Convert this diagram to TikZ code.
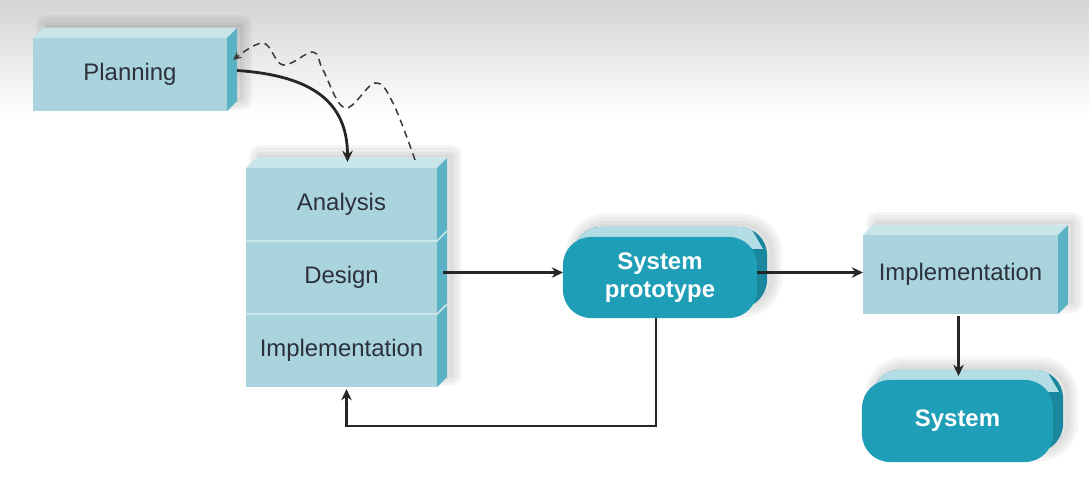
\documentclass[tikz,border=0pt]{standalone}
\usepackage{fontspec}
\setmainfont{Liberation Sans}
\usetikzlibrary{arrows,arrows.meta,positioning,calc}
\usepackage{xcolor}

\definecolor{boxfront}{HTML}{A9D4DD}
\definecolor{boxtop}{HTML}{C8E5EA}
\definecolor{boxside}{HTML}{5BB2C4}
\definecolor{tealfront}{HTML}{1F9EB7}
\definecolor{tealtop}{HTML}{B3DDE5}
\definecolor{tealside}{HTML}{1A879E}
\definecolor{textdark}{HTML}{2C303A}
\definecolor{linecol}{HTML}{262626}

\pgfdeclarelayer{bg}
\pgfdeclarelayer{back}
\pgfsetlayers{bg,back,main}

\begin{document}
\begin{tikzpicture}[x=0.025cm, y=-0.025cm, font=\fontsize{17}{20}\selectfont]
    \tikzstyle{phase} = [rectangle, fill=boxfront, text=textdark, minimum width=4.775cm, minimum height=1.825cm, inner sep=0pt, outer sep=0pt]
    \tikzstyle{result} = [rectangle, rounded corners=0.7cm, fill=tealfront, text=white, align=center, inner sep=0pt, outer sep=0pt, font=\fontsize{17}{20}\selectfont\bfseries]
    \tikzstyle{topface} = [fill=boxtop]
    \tikzstyle{sideface} = [fill=boxside]
    \tikzstyle{softshadow} = [draw=black, opacity=0.04, line join=round]
    \tikzstyle{link} = [draw=linecol, line width=2pt, ->, >={Stealth[length=8pt, width=7.5pt]}]
    \tikzstyle{feedback} = [draw=linecol!90, line width=1.1pt, dash pattern=on 5pt off 3.5pt, ->, >={Stealth[length=6pt, width=5.5pt]}]

    \useasboundingbox (0,0) rectangle (1089,480);

    % Phasen
    \node[phase, minimum width=4.85cm] (planning) at (130,74.5) {Planning};
    \node[phase] (analysis) at (341.5,204.5) {Analysis};
    \node[phase, below=0pt of analysis] (design) {Design};
    \node[phase, below=0pt of design] (implement) {Implementation};
    \node[phase, minimum width=4.875cm, minimum height=1.975cm] (install) at (960.5,274.5) {Implementation};

    % Ergebnisse
    \node[result, minimum width=4.85cm, minimum height=2.025cm] (proto) at (660,277.5) {System\\prototype};
    \node[result, minimum width=4.775cm, minimum height=2.05cm] (system) at (957.5,421) {System};

    % Hintergrund
    \begin{pgfonlayer}{bg}
        \shade[top color=black!17, bottom color=white] (0,0) rectangle (1089,115);
    \end{pgfonlayer}

    % 3D-Flaechen
    \begin{pgfonlayer}{back}
        \foreach \n/\m in {planning/planning, install/install, analysis/implement} {
            \foreach \w in {16,11,6,1}
                \path[softshadow, line width=\w pt] ([shift={(14,-12)}]\m.south west) -- ([shift={(14,-12)}]\n.north west) -| ([shift={(14,-12)}]\m.south east) -- cycle;
            \fill[topface] (\n.north west) -- ++(10,-10) -- ([shift={(10,-10)}]\n.north east) -- (\n.north east) -- cycle;
            \fill[sideface] (\n.north east) -- ++(10,-10) -- ([shift={(10,-10)}]\m.south east) -- (\m.south east) -- cycle;
        }
        \foreach \r in {proto, system} {
            \foreach \w in {16,11,6,1}
                \path[softshadow, line width=\w pt, rounded corners=0.7cm] ([shift={(14,-12)}]\r.south west) rectangle ([shift={(14,-12)}]\r.north east);
            \fill[tealside, rounded corners=0.7cm] ([shift={(10,-10)}]\r.south west) rectangle ([shift={(10,-10)}]\r.north east);
            \begin{scope}
                \clip[rounded corners=0.7cm] ([shift={(10,-10)}]\r.south west) rectangle ([shift={(10,-10)}]\r.north east);
                \fill[tealtop] ([shift={(0,-12)}]\r.north west) -- ([shift={(-8,-12)}]\r.north east) -- ([shift={(6,12)}]\r.north east) -- ([shift={(0,12)}]\r.north west) -- cycle;
            \end{scope}
        }
    \end{pgfonlayer}

    % Trennlinien
    \foreach \n in {design, implement}
        \draw[boxtop, line width=1.2pt] (\n.north west) -- (\n.north east) -- ++(10,-10);

    % Pfeile
    \draw[link] ([shift={(10,-4)}]planning.east) .. controls +(75,5) and +(0,-60) .. ([shift={(6,-6)}]analysis.north);
    \draw[feedback] plot[smooth, tension=0.6] coordinates {([shift={(-22,-8)}]analysis.north east) (393,103) (375,83) (345,108) (323,70) (313,52) (283,65) (263,43) ([shift={(6,22)}]planning.north east)};
    \draw[link] ([shift={(6,-5)}]design.east) -- ([shift={(0,-5)}]design.east -| proto.west);
    \draw[link] ([shift={(0,-5)}]proto.east) -- ([shift={(0,-5)}]proto.east -| install.west);
    \draw[link] ([shift={(-4,0)}]proto.south) -- ++(0,108) -| ([shift={(5,2)}]implement.south);
    \draw[link] ([shift={(-2,2)}]install.south) -- ([shift={(-2,-4)}]install.south |- system.north);
\end{tikzpicture}
\end{document}
